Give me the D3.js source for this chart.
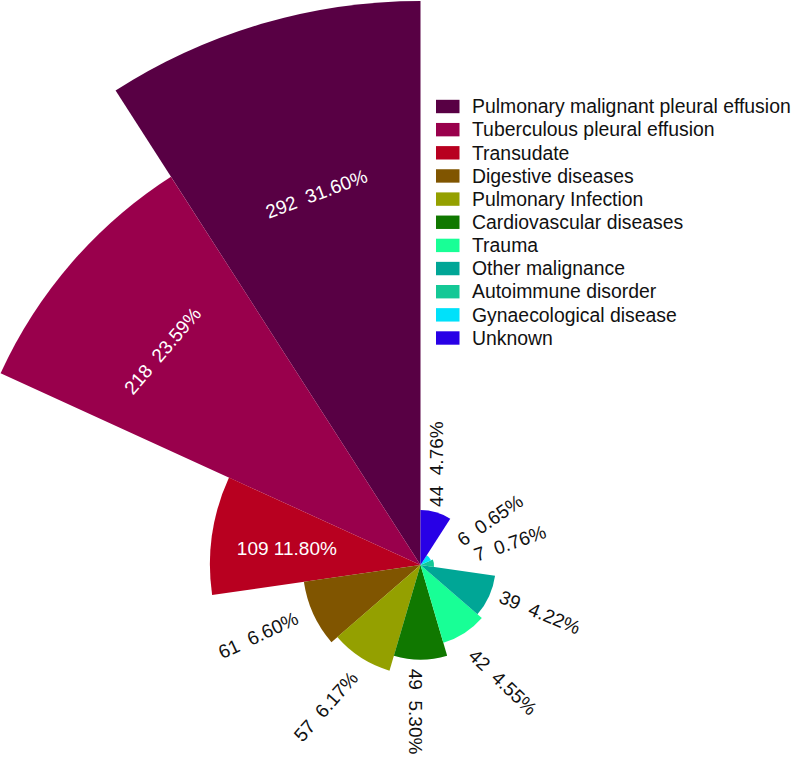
<!DOCTYPE html>
<html>
<head>
<meta charset="utf-8">
<script src="https://cdn.jsdelivr.net/npm/d3@7"></script>
<style>
    html, body { margin: 0; padding: 0; background: #fff; }
    svg { display: block; }
    text { font-family: "Liberation Sans", Arial, Helvetica, sans-serif; }
</style>
</head>
<body>
<div id="chart"></div>
<script>
//
// Nightingale rose of pleural effusion causes
//

// categories, in legend order (wedges run counter-clockwise from 12 o'clock)
const categories = [
    "Pulmonary malignant pleural effusion",
    "Tuberculous pleural effusion",
    "Transudate",
    "Digestive diseases",
    "Pulmonary Infection",
    "Cardiovascular diseases",
    "Trauma",
    "Other malignance",
    "Autoimmune disorder",
    "Gynaecological disease",
    "Unknown"
];

// case counts (as printed on the labels)
const counts = [292, 218, 109, 61, 57, 49, 42, 39, 7, 6, 44];

// wedge length as drawn in the picture, in count units
// (the tuberculous and unknown wedges are not drawn to their counts)
const wedgeLength = [292, 239, 109, 61, 57, 49, 42, 39, 7, 6, 28.5];

const colors = [
    "#580044", "#99004c", "#b80020", "#805500", "#94a000", "#107800",
    "#18ff96", "#00a696", "#14c896", "#00e1fa", "#2800e6"
];

// ----------------------------------------
// SETUP
// ----------------------------------------
const width = 794;
const height = 757;
const cx = 420.5;
const cy = 565;

const svg = d3.select("#chart")
    .append("svg")
    .attr("width", width)
    .attr("height", height);

const g = svg.append("g")
    .attr("transform", `translate(${cx},${cy})`);

// angle: reversed band so the first category sits just left of 12 o'clock
const angle = d3.scaleBand()
    .domain(categories)
    .range([2 * Math.PI, 0]);

const r = d3.scaleLinear()
    .domain([0, 292])
    .range([0, 564]);

const rows = categories.map((name, i) => ({
    name: name,
    count: counts[i],
    length: wedgeLength[i],
    color: colors[i],
    start: angle(name),
    end: angle(name) + angle.bandwidth()
}));

const arc = d3.arc()
    .innerRadius(0)
    .outerRadius(d => r(d.length))
    .startAngle(d => d.start)
    .endAngle(d => d.end);

// -----------------------------
// WEDGES
// -----------------------------
g.selectAll("path.wedge")
    .data(rows)
    .enter()
    .append("path")
    .attr("class", "wedge")
    .attr("d", arc)
    .attr("fill", d => d.color);

// -----------------------------
// LABELS
// -----------------------------
// how each label sits: angle nudge (deg), inside fraction or outside offset, rotation
const labelLayout = [
    { da: 0.7,  frac: 0.684, rot: -20.5 },
    { da: -1.2, frac: 0.727, rot: -49.6 },
    { da: -0.9, frac: 0.64,  rot: 0 },
    { da: 1.2,  off: 59, rot: -25 },
    { da: 1.1,  off: 60, rot: -48.5 },
    { da: 2,    off: 52, rot: 90 },
    { da: -2.5, off: 62, rot: 43.6 },
    { da: -3,   off: 53, rot: 22.5 },
    { da: -5.6, off: 78.5, rot: -19 },
    { da: 8,    off: 71, rot: -34.7 },
    { da: -7.7, off: 47, rot: -90 }
];

const pct = d3.format(".2%");

g.selectAll("text.label")
    .data(rows)
    .enter()
    .append("text")
    .attr("class", "label")
    .attr("transform", (d, i) => {
        const L = labelLayout[i];
        const a = (d.start + d.end) / 2 + L.da * Math.PI / 180;
        const rad = L.frac !== undefined ? r(d.length) * L.frac : r(d.length) + L.off;
        const x = Math.sin(a) * rad;
        const y = -Math.cos(a) * rad;
        return `translate(${x},${y}) rotate(${L.rot})`;
    })
    .attr("text-anchor", "middle")
    .attr("dy", "0.36em")
    .attr("font-size", 19)
    .attr("fill", (d, i) => labelLayout[i].frac !== undefined ? "#fff" : "#111")
    .style("white-space", "pre")
    .text((d, i) => d.count + (i === 2 ? " " : "  ") + pct(d.count / d3.sum(counts)));

// -----------------------------
// LEGEND
// -----------------------------
const legend = svg.append("g")
    .attr("transform", "translate(436,106.5)");

const item = legend.selectAll("g.item")
    .data(rows)
    .enter()
    .append("g")
    .attr("class", "item")
    .attr("transform", (d, i) => `translate(0,${i * 23.15})`);

item.append("rect")
    .attr("x", 0)
    .attr("y", -6.7)
    .attr("width", 23.5)
    .attr("height", 13.4)
    .attr("fill", d => d.color);

item.append("text")
    .attr("x", 36)
    .attr("dy", "0.35em")
    .attr("font-size", 19.4)
    .attr("fill", "#111")
    .text(d => d.name);
</script>
</body>
</html>
